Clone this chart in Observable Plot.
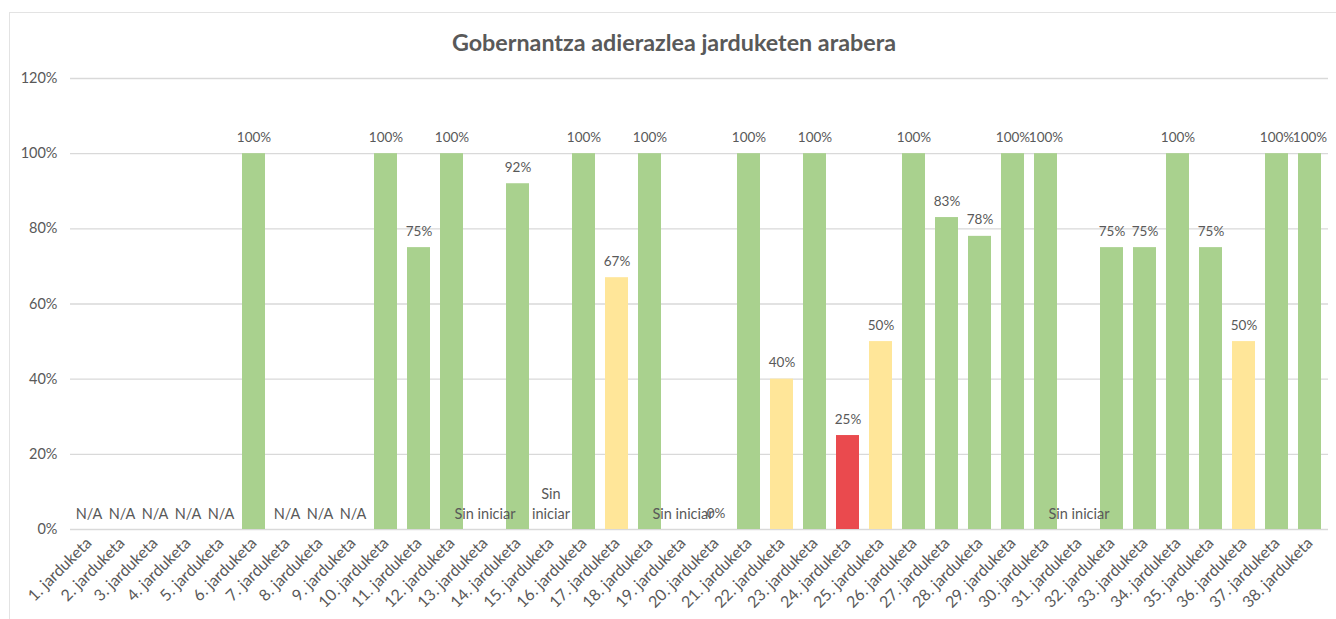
<!DOCTYPE html>
<html>
<head>
<meta charset="utf-8">
<script src="https://cdn.jsdelivr.net/npm/d3@7"></script>
<script src="https://cdn.jsdelivr.net/npm/@observablehq/plot@0.6"></script>
<style>
  html, body { margin: 0; padding: 0; background: #fff; }
  #frame { position: absolute; left: 9px; top: 12px; width: 1340px; height: 640px; border: 1px solid #e3e3e3; box-sizing: border-box; }
  #title { height: 52px; line-height: 58px; text-align: center; font-family: Lato, "Open Sans", sans-serif; font-weight: bold; font-size: 23.3px; color: #595959; padding-right: 10px; }
  #chart { position: absolute; left: 0; top: 52px; }
</style>
</head>
<body>
<div id="frame">
  <div id="title">Gobernantza adierazlea jarduketen arabera</div>
  <div id="chart"></div>
</div>
<script>
const categories = Array.from({length: 38}, (_, i) => `${i + 1}. jarduketa`);
const values = [null, null, null, null, null, 1.00, null, null, null, 1.00,
                0.75, 1.00, null, 0.92, null, 1.00, 0.67, 1.00, null, 0.00,
                1.00, 0.40, 1.00, 0.25, 0.50, 1.00, 0.83, 0.78, 1.00, 1.00,
                null, 0.75, 0.75, 1.00, 0.75, 0.50, 1.00, 1.00];
const textLabels = ["N/A", "N/A", "N/A", "N/A", "N/A", null, "N/A", "N/A", "N/A", null,
                    null, null, "Sin iniciar", null, "Sin\niniciar", null, null, null, "Sin iniciar", null,
                    null, null, null, null, null, null, null, null, null, null,
                    "Sin iniciar", null, null, null, null, null, null, null];
const yTicks = [0, 0.2, 0.4, 0.6, 0.8, 1.0, 1.2];
const statusThresholds = [0.3, 0.7];
const statusColors = ["#EA4A4E", "#FFE699", "#A9D18E"];

const fmt = d3.format(".0%");
const rows = categories.map((c, i) => ({ cat: c, value: values[i], note: textLabels[i] }));
const barRows = rows.filter(d => d.value != null && d.value > 0);
const valueRows = rows.filter(d => d.value != null);
const noteRows = rows.filter(d => d.note != null);

const chart = Plot.plot({
  width: 1326,
  height: 549,
  marginLeft: 60,
  marginRight: 8,
  marginTop: 13,
  marginBottom: 85,
  style: { fontFamily: "Lato, 'Open Sans', sans-serif", fontSize: "13px", color: "#595959", background: "transparent" },
  x: { domain: categories, paddingInner: 0.31, paddingOuter: 0.155, label: null },
  y: { domain: [0, 1.2], ticks: yTicks, label: null },
  color: { type: "threshold", domain: statusThresholds, range: statusColors },
  marks: [
    Plot.ruleY(yTicks, { stroke: "#d9d9d9", strokeWidth: 1.3 }),
    Plot.barY(barRows, { x: "cat", y: "value", fill: d => d.value }),
    Plot.text(valueRows, {
      x: "cat", y: "value", text: d => fmt(d.value),
      lineAnchor: "bottom", dy: -12, fill: "#595959", fontSize: 13.5
    }),
    Plot.text(noteRows, {
      x: "cat", y: 0, text: "note",
      lineAnchor: "bottom", dy: -11, fill: "#595959", fontSize: 14.5, lineHeight: 1.38
    }),
    Plot.axisY({ ticks: yTicks, tickFormat: fmt, tickSize: 0, tickPadding: 13, fontSize: 14.5, fill: "#595959" }),
    Plot.axisX({ tickRotate: -45, tickSize: 0, tickPadding: 11, fontSize: 16, fill: "#595959" })
  ]
});
document.getElementById("chart").appendChild(chart);
</script>
</body>
</html>
